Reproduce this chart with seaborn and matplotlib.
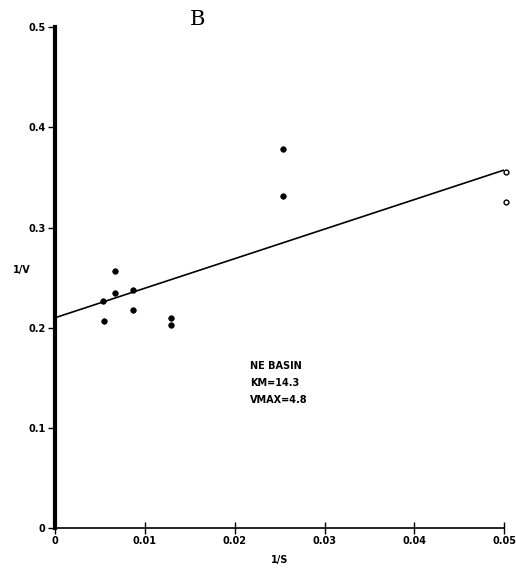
import seaborn as sns
import matplotlib.pyplot as plt
import pandas as pd

# Lineweaver-Burk data
inv_s = [0.0054, 0.0053, 0.0067, 0.0067, 0.0087, 0.0087, 0.0129, 0.0129, 0.0254, 0.0254]
inv_v = [0.207, 0.227, 0.257, 0.235, 0.238, 0.218, 0.210, 0.203, 0.378, 0.331]
open_s = [0.0502, 0.0502]
open_v = [0.355, 0.326]

fit_s = [0.0, 0.0502]
fit_v = [0.210, 0.358]

x_ticks = [0, 0.01, 0.02, 0.03, 0.04, 0.05]
x_labels = ["0", "0.01", "0.02", "0.03", "0.04", "0.05"]
y_ticks = [0, 0.1, 0.2, 0.3, 0.4, 0.5]
y_labels = ["0", "0.1", "0.2", "0.3", "0.4", "0.5"]
note_lines = ["NE BASIN", "KM=14.3", "VMAX=4.8"]

sns.set_style("ticks", {"axes.edgecolor": "black", "text.color": "black",
                        "axes.labelcolor": "black", "xtick.color": "black",
                        "ytick.color": "black"})
plt.rcParams['font.family'] = ['DejaVu Sans']

fig = plt.figure(figsize=(5.16, 5.79), dpi=100)
ax = fig.add_axes([0.107, 0.088, 0.87, 0.865])

df = pd.DataFrame({"s": inv_s, "v": inv_v})
sns.scatterplot(data=df, x="s", y="v", ax=ax, color="black", s=16, edgecolor="black", linewidth=0.5)
sns.scatterplot(x=open_s, y=open_v, ax=ax, facecolor="white", edgecolor="black", s=12, linewidth=1.0)
sns.lineplot(x=fit_s, y=fit_v, ax=ax, color="black", linewidth=1.2)

ax.set_xlim(0, 0.05)
ax.set_ylim(0, 0.5)
ax.set_xticks(x_ticks)
ax.set_xticklabels(x_labels, fontsize=7, fontweight="bold")
ax.set_yticks(y_ticks)
ax.set_yticklabels(y_labels, fontsize=7, fontweight="bold")
ax.tick_params(axis="x", direction="inout", length=8, width=1, pad=2)
ax.tick_params(axis="y", direction="out", length=5, width=1, pad=2)

for side in ["top", "right"]:
    ax.spines[side].set_visible(False)
ax.spines["left"].set_linewidth(3)
ax.spines["bottom"].set_linewidth(1.2)
for coll in ax.collections:
    coll.set_clip_on(False)

ax.set_xlabel("1/S", fontsize=7, fontweight="bold", labelpad=6)
ax.set_ylabel("1/V", fontsize=7, fontweight="bold", rotation=0)
ax.yaxis.set_label_coords(-0.075, 0.505)

fig.text(0.382, 0.966, "B", fontsize=15, family="DejaVu Serif", ha="center", va="center")
ax.text(0.0217, 0.167, "\n".join(note_lines), fontsize=7, fontweight="bold",
        va="top", ha="left", linespacing=1.9)

fig.savefig("out.png", dpi=100)
